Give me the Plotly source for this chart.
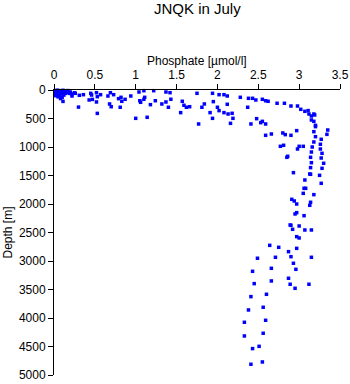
import plotly.graph_objects as go

title = "JNQK in July"
x_title = "Phosphate [\u00b5mol/l]"
y_title = "Depth [m]"

x_ticks = [0, 0.5, 1, 1.5, 2, 2.5, 3, 3.5]
x_tick_labels = ["0", "0.5", "1", "1.5", "2", "2.5", "3", "3.5"]
y_ticks = [0, 500, 1000, 1500, 2000, 2500, 3000, 3500, 4000, 4500, 5000]
y_tick_labels = [str(v) for v in y_ticks]

# surface cluster near zero
phos_surface = [0.02, 0.03, 0.05, 0.06, 0.08, 0.10, 0.12, 0.14, 0.04, 0.07, 0.09, 0.11,
                0.15, 0.18, 0.03, 0.01, 0.05, 0.08, 0.12, 0.16, 0.20, 0.22, 0.25, 0.02,
                0.10, 0.04, 0.06, 0.13, 0.17, 0.19]
depth_surface = [10, 30, 20, 50, 15, 40, 25, 60, 80, 100, 70, 5,
                 30, 45, 60, 40, 120, 150, 90, 20, 35, 70, 50, 100,
                 130, 5, 10, 15, 10, 60]

phos_upper = [0.11, 0.30, 0.53, 0.22, 0.26, 0.31, 0.36, 0.45, 0.46, 0.43, 0.47, 0.52,
              0.53, 0.52, 0.57, 0.66, 0.68, 0.70, 0.69, 0.73, 0.79, 0.82, 0.83, 0.81,
              0.87, 0.94, 1.04, 1.10, 1.05, 1.11, 1.10, 1.06, 1.18, 1.14, 1.00, 1.22,
              1.24, 1.32, 1.37, 1.42, 1.37, 1.43, 1.40, 1.55, 1.57, 1.59, 1.62]
depth_upper = [200, 300, 410, 105, 58, 93, 82, 58, 88, 175, 165, 47,
               117, 210, 82, 105, 245, 293, 47, 82, 152, 128, 198, 303,
               163, 105, 35, 12, 188, 128, 163, 216, 257, 479, 497, 12,
               188, 245, 35, 47, 210, 163, 303, 397, 198, 268, 303]

phos_mid = [1.66, 1.75, 1.77, 1.84, 1.81, 1.91, 1.94, 1.95, 1.94, 2.02, 2.08, 2.12,
            2.00, 2.02, 2.08, 2.13, 2.18, 2.19, 2.16, 2.12, 2.28, 2.37, 2.38, 2.43,
            2.47, 2.41, 2.48, 2.53, 2.55, 2.59, 2.55, 2.59, 2.62, 2.59, 2.66, 2.73,
            2.82, 2.80, 2.83, 2.90, 2.77, 2.81, 2.85, 2.86, 2.90, 2.98, 3.02, 3.07,
            3.11, 3.12, 3.15, 3.18, 3.19, 3.15, 3.18, 3.20, 3.20, 2.97, 3.18, 3.20,
            3.27, 3.35, 3.34, 3.26, 3.18, 3.26, 3.16, 2.98, 3.00, 3.05, 3.15, 3.28,
            3.14, 3.27]
depth_mid = [293, 58, 596, 245, 303, 397, 497, 204, 58, 82, 82, 105,
             303, 362, 397, 421, 409, 497, 585, 251, 128, 303, 146, 146,
             175, 596, 503, 573, 550, 596, 163, 188, 198, 795, 772, 233,
             233, 754, 783, 795, 988, 970, 1181, 1163, 281, 281, 339, 374,
             362, 421, 456, 421, 438, 526, 550, 620, 643, 713, 731, 819,
             865, 702, 778, 952, 912, 1035, 1000, 1035, 988, 988, 1088, 1111,
             1181, 1193]

phos_deep = [3.15, 3.30, 3.14, 3.28, 3.25, 3.27, 3.13, 3.14, 2.93, 3.07, 3.06, 3.08,
             3.05, 3.18, 2.91, 2.94, 2.97, 3.14, 3.13, 2.95, 2.97, 3.06, 2.89, 2.90,
             3.00, 2.92, 3.07, 3.15, 2.97, 3.00, 2.64, 2.75, 2.97, 2.87, 2.90, 3.15,
             2.71, 2.93, 2.49, 2.66, 2.96, 2.43, 2.66, 2.87, 2.89, 2.95, 3.12, 2.45,
             2.60, 2.41, 2.38, 2.56, 2.59, 2.33, 2.33, 2.56, 2.51, 2.43, 2.41, 2.55]
depth_deep = [1275, 1286, 1362, 1374, 1497, 1637, 1473, 1479, 1450, 1579, 1725, 1725,
              1813, 1836, 1918, 1947, 2000, 1970, 2023, 2175, 2152, 2205, 2368, 2374,
              2386, 2444, 2456, 2456, 2573, 2596, 2725, 2760, 2778, 2836, 2924, 2935,
              2935, 3040, 2952, 3128, 3146, 3181, 3350, 3303, 3408, 3479, 3408, 3397,
              3584, 3625, 3859, 3812, 4040, 4075, 4315, 4268, 4497, 4537, 4812, 4771]

phosphate = phos_surface + phos_upper + phos_mid + phos_deep
depth = depth_surface + depth_upper + depth_mid + depth_deep

font_family = "Liberation Sans, Arial, sans-serif"

fig = go.Figure()
fig.add_trace(go.Scatter(
    x=phosphate, y=depth, mode="markers",
    marker=dict(symbol="square", size=3.5, color="#0000ff", line=dict(width=0)),
    showlegend=False, cliponaxis=False,
))

fig.update_layout(
    template="none",
    width=350, height=384,
    margin=dict(l=54, r=10, t=90, b=9, pad=0),
    paper_bgcolor="white", plot_bgcolor="white",
    font=dict(family=font_family, size=12, color="black"),
    xaxis=dict(
        side="top", range=[0, 3.5], tickvals=x_ticks, ticktext=x_tick_labels,
        ticks="outside", ticklen=5, tickwidth=1, tickcolor="black",
        showline=True, linecolor="black", linewidth=1, automargin=False,
        showgrid=False, zeroline=False, tickfont=dict(size=12),
    ),
    yaxis=dict(
        range=[5000, 0], tickvals=y_ticks, ticktext=y_tick_labels,
        ticks="outside", ticklen=5, tickwidth=1, tickcolor="black",
        showline=True, linecolor="black", linewidth=1, automargin=False,
        showgrid=False, zeroline=False, tickfont=dict(size=12),
    ),
    annotations=[
        dict(text=title, x=0.5, xref="paper", y=1, yref="paper", yshift=82,
             yanchor="middle", showarrow=False, font=dict(size=15)),
        dict(text=x_title, x=0.5, xref="paper", y=1, yref="paper", yshift=29,
             yanchor="middle", showarrow=False, font=dict(size=12)),
        dict(text=y_title, x=0, xref="paper", xshift=-47, xanchor="center",
             y=0.5, yref="paper", yanchor="middle",
             textangle=-90, showarrow=False, font=dict(size=12)),
    ],
)

fig.write_html("out.html")
